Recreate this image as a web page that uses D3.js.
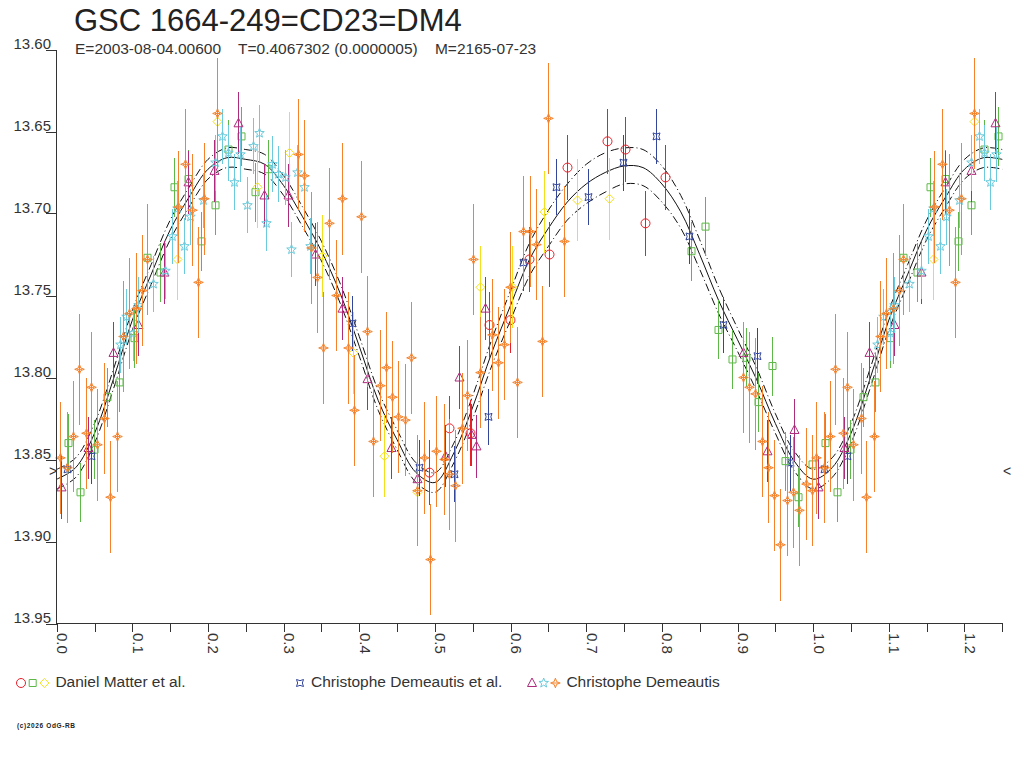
<!DOCTYPE html>
<html>
<head>
<meta charset="utf-8">
<script src="https://cdn.jsdelivr.net/npm/d3@7"></script>
<style>
  body { margin: 0; background: #fff; }
  svg text { font-family: "Liberation Sans", Arial, sans-serif; fill: #333; }
</style>
</head>
<body>
<svg id="mainsvg" width="1024" height="768"></svg>
<script>
// [phase, magnitude], phase 0..1 (0..0.25 is repeated after 1.0)
let MatterCircle = [
    [0.492, 13.858], [0.519, 13.831], [0.546, 13.834], [0.571, 13.768], [0.599, 13.765],
    [0.624, 13.728], [0.651, 13.725], [0.675, 13.672], [0.727, 13.656], [0.751, 13.661],
    [0.778, 13.706], [0.804, 13.678]
];
let MatterSquare = [
    [0.015, 13.840], [0.031, 13.870], [0.049, 13.844], [0.066, 13.812], [0.082, 13.803],
    [0.102, 13.776], [0.119, 13.727], [0.137, 13.736], [0.155, 13.684], [0.174, 13.679],
    [0.191, 13.717], [0.209, 13.695], [0.226, 13.661], [0.244, 13.653], [0.262, 13.687],
    [0.279, 13.673], [0.839, 13.723], [0.857, 13.708], [0.874, 13.771], [0.893, 13.789],
    [0.911, 13.788], [0.927, 13.815], [0.946, 13.793], [0.963, 13.851], [0.980, 13.873],
    [0.999, 13.853]
];
let MatterDiamond = [
    [0.159, 13.728], [0.212, 13.644], [0.265, 13.684], [0.307, 13.663], [0.351, 13.726],
    [0.392, 13.785], [0.433, 13.848], [0.476, 13.870], [0.560, 13.745], [0.602, 13.745],
    [0.644, 13.699], [0.688, 13.692], [0.730, 13.691]
];
let DemeautisEtAl = [
    [0.014, 13.856], [0.045, 13.848], [0.390, 13.767], [0.479, 13.855], [0.525, 13.859],
    [0.570, 13.824], [0.616, 13.730], [0.660, 13.684], [0.702, 13.690], [0.749, 13.669],
    [0.792, 13.653], [0.836, 13.714], [0.881, 13.768], [0.926, 13.787], [0.969, 13.852]
];
let DemeautisTriangle = [
    [0.006, 13.867], [0.041, 13.843], [0.074, 13.785], [0.107, 13.768], [0.142, 13.736],
    [0.174, 13.681], [0.208, 13.674], [0.240, 13.645], [0.274, 13.689], [0.306, 13.689],
    [0.341, 13.725], [0.377, 13.758], [0.410, 13.801], [0.442, 13.843], [0.476, 13.862],
    [0.513, 13.848], [0.532, 13.800], [0.548, 13.835], [0.554, 13.842], [0.566, 13.758],
    [0.907, 13.785], [0.939, 13.845], [0.975, 13.832]
];
let DemeautisStar = [
    [0.084, 13.780], [0.092, 13.763], [0.101, 13.773], [0.107, 13.756], [0.127, 13.743],
    [0.143, 13.735], [0.152, 13.714], [0.159, 13.697], [0.168, 13.720], [0.176, 13.702],
    [0.193, 13.692], [0.209, 13.669], [0.219, 13.653], [0.226, 13.663], [0.234, 13.681],
    [0.242, 13.664], [0.252, 13.695], [0.260, 13.659], [0.267, 13.651], [0.277, 13.706],
    [0.285, 13.670], [0.293, 13.676], [0.302, 13.678], [0.310, 13.722], [0.318, 13.675],
    [0.327, 13.684], [0.335, 13.720]
];
let DemeautisSparkle = [
    [0.004, 13.849], [0.014, 13.855], [0.022, 13.836], [0.029, 13.795], [0.039, 13.834],
    [0.045, 13.806], [0.053, 13.841], [0.063, 13.825], [0.070, 13.873], [0.080, 13.836],
    [0.088, 13.775], [0.096, 13.761], [0.105, 13.758], [0.113, 13.747], [0.119, 13.728],
    [0.160, 13.696], [0.170, 13.670], [0.179, 13.698], [0.187, 13.742], [0.195, 13.691],
    [0.212, 13.639], [0.319, 13.664], [0.327, 13.677], [0.336, 13.721], [0.344, 13.739],
    [0.352, 13.782], [0.360, 13.706], [0.369, 13.750], [0.377, 13.691], [0.385, 13.782],
    [0.393, 13.820], [0.402, 13.702], [0.410, 13.772], [0.418, 13.839], [0.427, 13.805],
    [0.435, 13.794], [0.443, 13.812], [0.451, 13.824], [0.460, 13.826], [0.468, 13.788],
    [0.476, 13.869], [0.486, 13.849], [0.493, 13.911], [0.501, 13.845], [0.512, 13.850],
    [0.519, 13.859], [0.526, 13.866], [0.536, 13.831], [0.542, 13.811], [0.550, 13.728],
    [0.560, 13.797], [0.575, 13.774], [0.583, 13.791], [0.591, 13.780], [0.599, 13.745],
    [0.609, 13.803], [0.616, 13.711], [0.626, 13.711], [0.634, 13.719], [0.642, 13.778],
    [0.649, 13.642], [0.671, 13.717], [0.907, 13.800], [0.915, 13.806], [0.923, 13.810],
    [0.932, 13.839], [0.940, 13.855], [0.948, 13.872], [0.956, 13.902], [0.965, 13.875],
    [0.973, 13.870], [0.981, 13.881], [0.990, 13.865], [0.999, 13.869]
];

// fitted light curve and its uncertainty, phase 0..1
let FitPhase = [
    0.000, 0.025, 0.050, 0.075, 0.100, 0.125, 0.150, 0.175, 0.200, 0.225,
    0.250, 0.275, 0.300, 0.325, 0.350, 0.375, 0.400, 0.425, 0.450, 0.475,
    0.500, 0.525, 0.550, 0.575, 0.600, 0.625, 0.650, 0.675, 0.700, 0.725,
    0.750, 0.775, 0.800, 0.825, 0.850, 0.875, 0.900, 0.925, 0.950, 0.975, 1.000
];
let FitMag = [
    13.862, 13.855, 13.834, 13.801, 13.765, 13.737, 13.710, 13.690, 13.673, 13.666,
    13.667, 13.670, 13.683, 13.702, 13.723, 13.749, 13.781, 13.814, 13.838, 13.858,
    13.864, 13.846, 13.818, 13.785, 13.756, 13.728, 13.709, 13.693, 13.682, 13.675,
    13.671, 13.672, 13.682, 13.699, 13.725, 13.753, 13.777, 13.801, 13.828, 13.851, 13.862
];
let FitErr = [
    0.006, 0.006, 0.006, 0.006, 0.006, 0.006, 0.006, 0.006, 0.006, 0.006,
    0.006, 0.006, 0.006, 0.006, 0.006, 0.006, 0.006, 0.006, 0.006, 0.006,
    0.006, 0.006, 0.007, 0.008, 0.009, 0.010, 0.011, 0.011, 0.012, 0.012,
    0.011, 0.011, 0.011, 0.010, 0.009, 0.008, 0.007, 0.007, 0.006, 0.006, 0.006
];

let MagTicks = [13.60, 13.65, 13.70, 13.75, 13.80, 13.85, 13.90, 13.95];
let PhaseTicks = [0.0, 0.1, 0.2, 0.3, 0.4, 0.5, 0.6, 0.7, 0.8, 0.9, 1.0, 1.1, 1.2];
let PhaseMinorTicks = [0.05, 0.15, 0.25, 0.35, 0.45, 0.55, 0.65, 0.75, 0.85, 0.95, 1.05, 1.15, 1.25];
let MarkerMag = 13.857;

let Series = [
    {id: "mc", shape: "circle",   color: "#e8202a", err: 0.020, data: MatterCircle},
    {id: "ms", shape: "square",   color: "#5db847", err: 0.018, data: MatterSquare},
    {id: "md", shape: "diamond",  color: "#f2e01c", err: 0.025, data: MatterDiamond},
    {id: "de", shape: "quad",     color: "#34469a", err: 0.017, data: DemeautisEtAl},
    {id: "dt", shape: "triangle", color: "#ad2a7c", err: 0.019, data: DemeautisTriangle},
    {id: "ds", shape: "star",     color: "#6bcadb", err: 0.017, data: DemeautisStar},
    {id: "dk", shape: "sparkle",  color: "#f5822b", err: 0.034, data: DemeautisSparkle}
];
let Legend = [
    {label: "Daniel Matter et al.", series: ["mc", "ms", "md"]},
    {label: "Christophe Demeautis et al.", series: ["de"]},
    {label: "Christophe Demeautis", series: ["dt", "ds", "dk"]}
];
let Title = "GSC 1664-249=CD23=DM4";
let SubTitle = "E=2003-08-04.00600    T=0.4067302 (0.0000005)    M=2165-07-23";
let Copyright = "(c)2026 OdG-RB";

let LightCurve = function() {
    let that = this;
    let svg = d3.select("#mainsvg");
    let x = d3.scaleLinear().domain([0, 1.25]).range([56.7, 1002.3]);
    let y = d3.scaleLinear().domain([13.60, 13.95]).range([49.5, 623.5]);
    let px = v => Math.round(x(v)) + 0.5;

    let shapePath = function(shape) {
        if (shape === "circle") return "M4.5,0A4.5,4.5 0 1,1 -4.5,0A4.5,4.5 0 1,1 4.5,0Z";
        if (shape === "square") return "M-3.5,-3.5H3.5V3.5H-3.5Z";
        if (shape === "diamond") return "M0,-4.5L4.5,0L0,4.5L-4.5,0Z";
        if (shape === "triangle") return "M0,-5L4.5,3.5H-4.5Z";
        if (shape === "quad") return "M-3.5,-3.5Q0,-1.2 3.5,-3.5Q1.2,0 3.5,3.5Q0,1.2 -3.5,3.5Q-1.2,0 -3.5,-3.5Z";
        if (shape === "sparkle") return "M0,-4.8L1.3,-1.3L4.8,0L1.3,1.3L0,4.8L-1.3,1.3L-4.8,0L-1.3,-1.3ZM-2.5,0H2.5";
        // five pointed star
        let p = d3.path();
        for (let i = 0; i < 10; i++) {
            let r = i % 2 ? 2.1 : 5;
            let a = -Math.PI / 2 + i * Math.PI / 5;
            if (i === 0) p.moveTo(r * Math.cos(a), r * Math.sin(a));
            else p.lineTo(r * Math.cos(a), r * Math.sin(a));
        }
        p.closePath();
        return p.toString();
    };

    // phase 0..0.25 is shown a second time after 1.0
    let unfold = function(rows) {
        let out = rows.slice();
        rows.forEach(r => { if (r[0] + 1 <= 1.25) out.push([r[0] + 1].concat(r.slice(1))); });
        return out;
    };

    that.drawText = function() {
        svg.append("text").attr("x", 74).attr("y", 31)
            .style("font-size", "31px").style("fill", "#222").text(Title);
        svg.append("text").attr("x", 75).attr("y", 54)
            .style("font-size", "15.5px").style("white-space", "pre").text(SubTitle);
        svg.append("text").attr("x", 17).attr("y", 728)
            .style("font-size", "6.5px").style("font-weight", "bold").style("fill", "#222")
            .attr("textLength", 58).text(Copyright);
    };

    that.drawAxes = function() {
        let g = svg.append("g").attr("stroke", "#333").attr("shape-rendering", "crispEdges");
        g.append("line").attr("x1", 56.5).attr("x2", 56.5).attr("y1", y(13.60)).attr("y2", y(13.95));
        g.append("line").attr("x1", 56.5).attr("x2", px(1.25)).attr("y1", 623.5).attr("y2", 623.5);
        g.selectAll(".ytick").data(MagTicks).enter().append("line")
            .attr("x1", 46).attr("x2", 56.5)
            .attr("y1", d => Math.round(y(d)) + 0.5).attr("y2", d => Math.round(y(d)) + 0.5);
        g.selectAll(".xtick").data(PhaseTicks.concat(PhaseMinorTicks)).enter().append("line")
            .attr("x1", d => px(d)).attr("x2", d => px(d)).attr("y1", 623.5).attr("y2", 632);

        svg.selectAll(".ylab").data(MagTicks).enter().append("text")
            .attr("x", 51).attr("y", d => y(d) - 1)
            .attr("text-anchor", "end").style("font-size", "15px")
            .text(d => d.toFixed(2));
        svg.selectAll(".xlab").data(PhaseTicks).enter().append("text")
            .attr("transform", d => "translate(" + (x(d) + 0.5) + ",633) rotate(90)")
            .style("font-size", "15px")
            .text(d => d.toFixed(1));

        // level markers on both sides
        svg.append("text").attr("x", 49).attr("y", y(MarkerMag) + 5)
            .style("font-size", "14px").text(">");
        svg.append("text").attr("x", 1003).attr("y", y(MarkerMag) + 5)
            .style("font-size", "14px").text("<");
    };

    that.drawFit = function() {
        let rows = FitPhase.map((p, i) => [p, FitMag[i], FitErr[i]]);
        rows = unfold(rows).filter((r, i, a) => a.findIndex(q => q[0] === r[0]) === i);
        rows.sort((a, b) => a[0] - b[0]);
        let mk = k => d3.line().curve(d3.curveCatmullRom.alpha(0.5))
            .x(d => x(d[0])).y(d => y(d[1] + k * d[2]));
        let g = svg.append("g").attr("fill", "none").attr("stroke", "#111").attr("stroke-width", 1);
        g.append("path").datum(rows).attr("d", mk(0));
        g.append("path").datum(rows).attr("d", mk(-1)).attr("stroke-dasharray", "8,3,1,3");
        g.append("path").datum(rows).attr("d", mk(1)).attr("stroke-dasharray", "8,3,1,3");
    };

    that.drawPoints = function() {
        Series.forEach(function(s) {
            let rows = unfold(s.data);
            let g = svg.append("g").attr("class", "series-" + s.id);
            g.selectAll("line").data(rows).enter().append("line")
                .attr("x1", d => px(d[0])).attr("x2", d => px(d[0]))
                .attr("y1", d => y(d[1] - s.err)).attr("y2", d => y(d[1] + s.err))
                .attr("stroke", s.color).attr("stroke-width", 1)
                .attr("shape-rendering", "crispEdges");
            g.selectAll("path").data(rows).enter().append("path")
                .attr("transform", d => "translate(" + px(d[0]) + "," + y(d[1]) + ")")
                .attr("d", shapePath(s.shape))
                .attr("fill", "none").attr("stroke", s.color).attr("stroke-width", 1);
        });
    };

    that.drawLegend = function() {
        let colX = [17, 296, 528];
        Legend.forEach(function(item, gi) {
            let g = svg.append("g");
            let cx = colX[gi] + 4;
            item.series.forEach(function(id, i) {
                let s = Series.find(q => q.id === id);
                g.append("path").attr("transform", "translate(" + (cx + i * 11.7) + ",683)")
                    .attr("d", shapePath(s.shape))
                    .attr("fill", "none").attr("stroke", s.color);
            });
            g.append("text").attr("x", cx + (item.series.length - 1) * 11.7 + 11).attr("y", 687)
                .style("font-size", "15.5px").text(item.label);
        });
    };

    that.init = function() {
        that.drawText();
        that.drawFit();
        that.drawPoints();
        that.drawAxes();
        that.drawLegend();
    }.call();
};

new LightCurve();
</script>
</body>
</html>
